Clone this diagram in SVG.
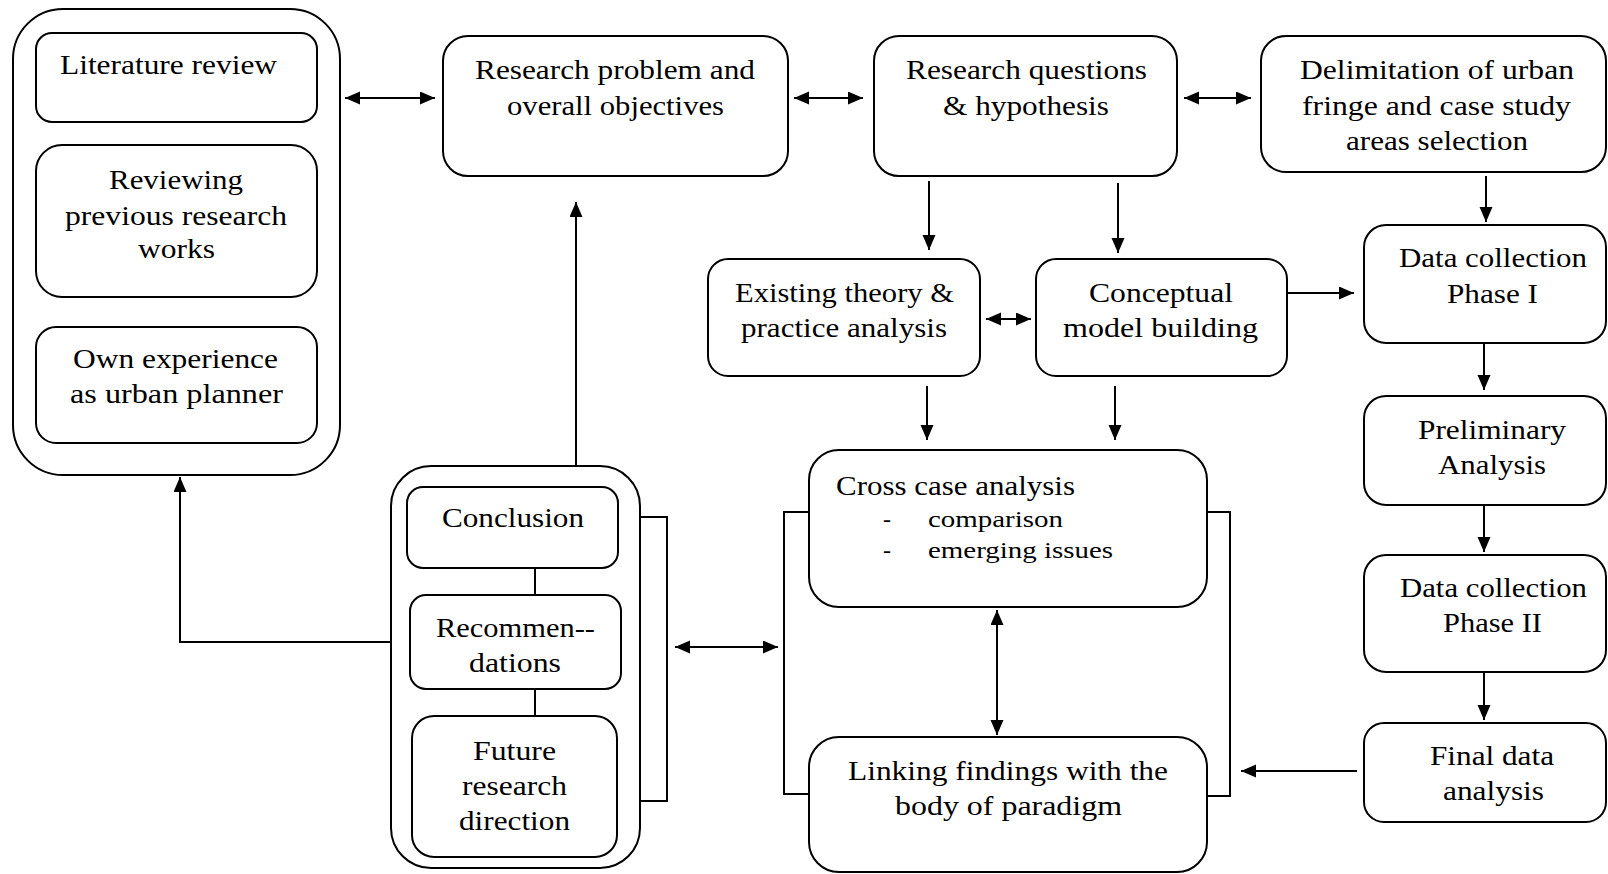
<svg xmlns="http://www.w3.org/2000/svg" width="1608" height="874" viewBox="0 0 1608 874">
  <style>
    .box { fill: #ffffff; stroke: #000000; stroke-width: 2; }
    .t { font-family: "Liberation Serif", "Times New Roman", serif; font-size: 27px; fill: #000000; }
    .s { font-family: "Liberation Serif", "Times New Roman", serif; font-size: 24px; fill: #000000; }
    .ln { fill: none; stroke: #000000; stroke-width: 2; }
    .arr { fill: none; stroke: #000000; stroke-width: 2; marker-end: url(#head); }
    .arr2 { fill: none; stroke: #000000; stroke-width: 2; marker-start: url(#head); marker-end: url(#head); }
  </style>
  <defs>
    <marker id="head" markerUnits="userSpaceOnUse" markerWidth="16" markerHeight="14" refX="15" refY="6.5" orient="auto-start-reverse">
      <path d="M0,0 L15,6.5 L0,13 Z" fill="#000000"/>
    </marker>
  </defs>
  <rect width="1608" height="874" fill="#ffffff"/>

  <!-- sources group -->
  <g id="sources">
    <rect class="box" x="13" y="9" width="327" height="466" rx="50"/>
    <g id="literature-review">
      <rect class="box" x="36" y="33" width="281" height="89" rx="16"/>
      <text class="t" x="60" y="74" textLength="217" lengthAdjust="spacingAndGlyphs">Literature review</text>
    </g>
    <g id="previous-works">
      <rect class="box" x="36" y="145" width="281" height="152" rx="26"/>
      <text class="t" x="109" y="189" textLength="134" lengthAdjust="spacingAndGlyphs">Reviewing</text>
      <text class="t" x="65" y="225" textLength="222" lengthAdjust="spacingAndGlyphs">previous research</text>
      <text class="t" x="138" y="258" textLength="77" lengthAdjust="spacingAndGlyphs">works</text>
    </g>
    <g id="own-experience">
      <rect class="box" x="36" y="327" width="281" height="116" rx="20"/>
      <text class="t" x="73" y="368" textLength="205" lengthAdjust="spacingAndGlyphs">Own experience</text>
      <text class="t" x="70" y="403" textLength="213" lengthAdjust="spacingAndGlyphs">as urban planner</text>
    </g>
  </g>

  <g id="research-problem">
    <rect class="box" x="443" y="36" width="345" height="140" rx="25"/>
    <text class="t" x="475" y="79" textLength="280" lengthAdjust="spacingAndGlyphs">Research problem and</text>
    <text class="t" x="507" y="115" textLength="217" lengthAdjust="spacingAndGlyphs">overall objectives</text>
  </g>

  <g id="research-questions">
    <rect class="box" x="874" y="36" width="303" height="140" rx="25"/>
    <text class="t" x="906" y="79" textLength="241" lengthAdjust="spacingAndGlyphs">Research questions</text>
    <text class="t" x="943" y="115" textLength="166" lengthAdjust="spacingAndGlyphs">&amp; hypothesis</text>
  </g>

  <g id="delimitation">
    <rect class="box" x="1261" y="36" width="345" height="136" rx="25"/>
    <text class="t" x="1300" y="79" textLength="274" lengthAdjust="spacingAndGlyphs">Delimitation of urban</text>
    <text class="t" x="1302" y="115" textLength="269" lengthAdjust="spacingAndGlyphs">fringe and case study</text>
    <text class="t" x="1346" y="150" textLength="182" lengthAdjust="spacingAndGlyphs">areas selection</text>
  </g>

  <g id="existing-theory">
    <rect class="box" x="708" y="259" width="272" height="117" rx="20"/>
    <text class="t" x="735" y="302" textLength="219" lengthAdjust="spacingAndGlyphs">Existing theory &amp;</text>
    <text class="t" x="741" y="337" textLength="206" lengthAdjust="spacingAndGlyphs">practice analysis</text>
  </g>

  <g id="conceptual-model">
    <rect class="box" x="1036" y="259" width="251" height="117" rx="20"/>
    <text class="t" x="1089" y="302" textLength="144" lengthAdjust="spacingAndGlyphs">Conceptual</text>
    <text class="t" x="1063" y="337" textLength="195" lengthAdjust="spacingAndGlyphs">model building</text>
  </g>

  <g id="data-collection-1">
    <rect class="box" x="1364" y="225" width="242" height="118" rx="22"/>
    <text class="t" x="1399" y="267" textLength="188" lengthAdjust="spacingAndGlyphs">Data collection</text>
    <text class="t" x="1447" y="303" textLength="91" lengthAdjust="spacingAndGlyphs">Phase I</text>
  </g>

  <g id="preliminary-analysis">
    <rect class="box" x="1364" y="396" width="242" height="109" rx="22"/>
    <text class="t" x="1418" y="439" textLength="148" lengthAdjust="spacingAndGlyphs">Preliminary</text>
    <text class="t" x="1438" y="474" textLength="108" lengthAdjust="spacingAndGlyphs">Analysis</text>
  </g>

  <g id="data-collection-2">
    <rect class="box" x="1364" y="555" width="242" height="117" rx="22"/>
    <text class="t" x="1400" y="597" textLength="187" lengthAdjust="spacingAndGlyphs">Data collection</text>
    <text class="t" x="1443" y="632" textLength="99" lengthAdjust="spacingAndGlyphs">Phase II</text>
  </g>

  <g id="final-analysis">
    <rect class="box" x="1364" y="723" width="242" height="99" rx="20"/>
    <text class="t" x="1430" y="765" textLength="124" lengthAdjust="spacingAndGlyphs">Final data</text>
    <text class="t" x="1443" y="800" textLength="101" lengthAdjust="spacingAndGlyphs">analysis</text>
  </g>

  <g id="cross-case">
    <rect class="box" x="809" y="450" width="398" height="157" rx="30"/>
    <text class="t" x="836" y="495" textLength="239" lengthAdjust="spacingAndGlyphs">Cross case analysis</text>
    <text class="s" x="883" y="527">-</text>
    <text class="s" x="928" y="527" textLength="135" lengthAdjust="spacingAndGlyphs">comparison</text>
    <text class="s" x="883" y="558">-</text>
    <text class="s" x="928" y="558" textLength="185" lengthAdjust="spacingAndGlyphs">emerging issues</text>
  </g>

  <g id="linking-findings">
    <rect class="box" x="809" y="737" width="398" height="135" rx="30"/>
    <text class="t" x="848" y="780" textLength="320" lengthAdjust="spacingAndGlyphs">Linking findings with the</text>
    <text class="t" x="895" y="815" textLength="227" lengthAdjust="spacingAndGlyphs">body of paradigm</text>
  </g>

  <!-- outcomes group -->
  <g id="outcomes">
    <rect class="box" x="391" y="466" width="249" height="402" rx="40"/>
    <g id="conclusion">
      <rect class="box" x="407" y="487" width="211" height="81" rx="16"/>
      <text class="t" x="442" y="527" textLength="142" lengthAdjust="spacingAndGlyphs">Conclusion</text>
    </g>
    <g id="recommendations">
      <rect class="box" x="410" y="595" width="211" height="94" rx="16"/>
      <text class="t" x="436" y="637" textLength="159" lengthAdjust="spacingAndGlyphs">Recommen--</text>
      <text class="t" x="469" y="672" textLength="92" lengthAdjust="spacingAndGlyphs">dations</text>
    </g>
    <g id="future-research">
      <rect class="box" x="412" y="716" width="205" height="141" rx="22"/>
      <text class="t" x="473" y="760" textLength="83" lengthAdjust="spacingAndGlyphs">Future</text>
      <text class="t" x="462" y="795" textLength="105" lengthAdjust="spacingAndGlyphs">research</text>
      <text class="t" x="459" y="830" textLength="111" lengthAdjust="spacingAndGlyphs">direction</text>
    </g>
  </g>

  <!-- connectors -->
  <g id="connectors">
    <path class="arr2" d="M345,98 H435"/>
    <path class="arr2" d="M794,98 H863"/>
    <path class="arr2" d="M1184,98 H1251"/>
    <path class="arr" d="M929,181 V250"/>
    <path class="arr" d="M1118,183 V253"/>
    <path class="arr" d="M1486,176 V222"/>
    <path class="arr2" d="M986,319 H1031"/>
    <path class="arr" d="M1287,293 H1354"/>
    <path class="arr" d="M1484,343 V390"/>
    <path class="arr" d="M1484,505 V552"/>
    <path class="arr" d="M1484,672 V720"/>
    <path class="arr" d="M1357,771 H1241"/>
    <path class="arr" d="M927,386 V440"/>
    <path class="arr" d="M1115,386 V440"/>
    <path class="arr2" d="M997,610 V735"/>
    <path class="ln" d="M809,512 H784 V794 H809"/>
    <path class="ln" d="M1207,512 H1230 V796 H1207"/>
    <path class="ln" d="M640,517 H667 V801 H640"/>
    <path class="arr2" d="M675,647 H778"/>
    <path class="arr" d="M391,642 H180 V477"/>
    <path class="arr" d="M576,466 V202"/>
    <path class="ln" d="M535,568 V595"/>
    <path class="ln" d="M535,689 V716"/>
  </g>
</svg>
